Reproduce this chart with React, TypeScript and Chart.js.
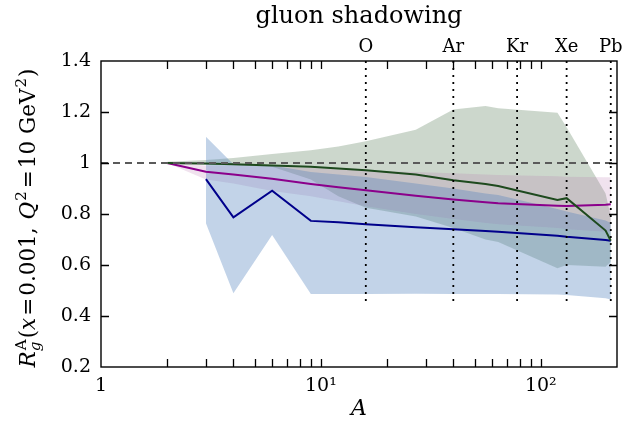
import React, { useEffect, useRef } from 'react';
import { Chart, registerables } from 'chart.js';

Chart.register(...registerables);

const FONT = '"DejaVu Serif", "Liberation Serif", serif';

// mass numbers at which the curves are evaluated
const massA = [2, 3, 4, 6, 9, 12, 16, 27, 40, 56, 64, 119, 131, 197, 208];
const greenCentral = [1.0, 0.998, 0.995, 0.99, 0.985, 0.978, 0.972, 0.955, 0.932, 0.918, 0.91, 0.855, 0.862, 0.735, 0.695];
const greenUpper = [1.005, 1.012, 1.02, 1.035, 1.05, 1.065, 1.085, 1.13, 1.21, 1.224, 1.215, 1.197, 1.14, 0.88, 0.79];
const greenLower = [0.995, 0.992, 0.99, 0.985, 0.935, 0.87, 0.825, 0.79, 0.745, 0.7, 0.69, 0.587, 0.6, 0.593, 0.613];
const purpleCentral = [1.0, 0.966, 0.955, 0.938, 0.918, 0.905, 0.893, 0.872, 0.857, 0.846, 0.842, 0.832, 0.831, 0.836, 0.838];
const pinkUpper = [1.0, 0.99, 0.988, 0.985, 0.98, 0.975, 0.97, 0.965, 0.96, 0.955, 0.953, 0.948, 0.946, 0.944, 0.944];
const pinkLower = [1.0, 0.935, 0.92, 0.89, 0.87, 0.85, 0.83, 0.8, 0.78, 0.765, 0.76, 0.745, 0.74, 0.73, 0.73];
const blueA = [3, 4, 6, 9, 12, 16, 27, 40, 56, 64, 119, 131, 197, 208];
const blueCentral = [0.937, 0.787, 0.891, 0.773, 0.768, 0.76, 0.748, 0.74, 0.733, 0.73, 0.715, 0.711, 0.698, 0.695];
const blueUpper = [1.103, 0.995, 0.99, 0.965, 0.955, 0.945, 0.92, 0.9, 0.88, 0.875, 0.82, 0.81, 0.775, 0.765];
const blueLower = [0.764, 0.489, 0.718, 0.486, 0.486, 0.486, 0.487, 0.486, 0.486, 0.486, 0.484, 0.482, 0.47, 0.465];

const markerNames = ['O', 'Ar', 'Kr', 'Xe', 'Pb'];
const markerA = [16, 40, 78, 131, 208];
const markerRange = [1.4, 0.45];
const referenceLevel = 1;

const xMin = 1;
const xMax = 222;
const yMin = 0.2;
const yMax = 1.4;
const yStep = 0.2;
const xLabelValues = [1, 10, 100];
const xLabelTexts = ['1', '10\u00B9', '10\u00B2'];
const xTickMarks = [2, 3, 4, 5, 6, 7, 8, 9, 10, 20, 30, 40, 50, 60, 70, 80, 90, 100];
const yTickMarks = [0.4, 0.6, 0.8, 1.0, 1.2];

const titleText = 'gluon shadowing';
const xTitleText = 'A';
type Seg = { t: string; italic?: boolean; scale?: number; dy?: number; noAdvance?: boolean; padL?: number; padR?: number };
const yTitleSegments: Seg[] = [
  { t: 'R', italic: true },
  { t: 'A', scale: 0.7, dy: -0.42, noAdvance: true, padL: 1 },
  { t: 'g', italic: true, scale: 0.7, dy: 0.22, padL: 0 },
  { t: '(', padL: 1 },
  { t: 'x', italic: true },
  { t: '=', padL: 2, padR: 2 },
  { t: '0.001,' },
  { t: 'Q', italic: true, padL: 8 },
  { t: '2', scale: 0.7, dy: -0.42, padL: 1 },
  { t: '=', padL: 3, padR: 2 },
  { t: '10 GeV' },
  { t: '2', scale: 0.7, dy: -0.42, padL: 1 },
  { t: ')', padL: 1 },
];

const pts = (xs: number[], ys: number[]) => xs.map((x, i) => ({ x, y: ys[i] }));

function lineDs(data: any[], color: string, width: number, dash: number[] = []) {
  return {
    data,
    borderColor: color,
    borderWidth: width,
    borderDash: dash,
    borderCapStyle: 'butt',
    pointRadius: 0,
    fill: false,
    tension: 0,
  };
}
function bandUpper(data: any[], color: string) {
  return { data, borderColor: 'rgba(0,0,0,0)', borderWidth: 0, backgroundColor: color, pointRadius: 0, fill: '+1', tension: 0 };
}
function bandLower(data: any[]) {
  return { data, borderColor: 'rgba(0,0,0,0)', borderWidth: 0, pointRadius: 0, fill: false, tension: 0 };
}

function drawYTitle(ctx: CanvasRenderingContext2D, cx: number, cy: number) {
  const F = 21.5;
  const fnt = (it: boolean, size: number) => `${it ? 'italic ' : ''}${size}px ${FONT}`;
  let total = 0;
  let pending = 0;
  const items: any[] = [];
  for (const s of yTitleSegments) {
    const size = F * (s.scale ?? 1);
    ctx.font = fnt(!!s.italic, size);
    const w = ctx.measureText(s.t).width;
    items.push({ s, size, x: total + (s.padL ?? 0) });
    if (s.noAdvance) {
      pending = w + (s.padL ?? 0);
    } else {
      total += Math.max((s.padL ?? 0) + w, pending) + (s.padR ?? 0);
      pending = 0;
    }
  }
  ctx.save();
  ctx.translate(cx, cy);
  ctx.rotate(-Math.PI / 2);
  ctx.fillStyle = '#000';
  ctx.textBaseline = 'alphabetic';
  ctx.textAlign = 'left';
  for (const it of items) {
    ctx.font = fnt(!!it.s.italic, it.size);
    ctx.fillText(it.s.t, it.x - total / 2, (it.s.dy ?? 0) * F);
  }
  ctx.restore();
}

const decorPlugin = {
  id: 'decor',
  afterDraw(chart: any) {
    const { ctx, chartArea } = chart;
    const { left, right, top, bottom } = chartArea;
    const xs = chart.scales.x;
    const ys = chart.scales.y;
    ctx.save();
    ctx.setLineDash([]);
    ctx.globalAlpha = 1;
    ctx.strokeStyle = '#000000';
    ctx.lineWidth = 1.3;
    const tl = 8;
    ctx.beginPath();
    xTickMarks.forEach((v) => {
      const px = Math.round(xs.getPixelForValue(v)) + 0.5;
      ctx.moveTo(px, bottom);
      ctx.lineTo(px, bottom - tl);
      ctx.moveTo(px, top);
      ctx.lineTo(px, top + tl);
    });
    yTickMarks.forEach((v) => {
      const py = Math.round(ys.getPixelForValue(v)) + 0.5;
      ctx.moveTo(left, py);
      ctx.lineTo(left + tl, py);
      ctx.moveTo(right, py);
      ctx.lineTo(right - tl, py);
    });
    ctx.stroke();
    ctx.lineWidth = 1.4;
    ctx.strokeRect(left, top, right - left, bottom - top);
    ctx.fillStyle = '#000';
    ctx.font = `18px ${FONT}`;
    ctx.textAlign = 'center';
    ctx.textBaseline = 'alphabetic';
    markerNames.forEach((n, i) => {
      ctx.fillText(n, xs.getPixelForValue(markerA[i]), 52);
    });
    ctx.restore();
    drawYTitle(ctx, 35, 218);
  },
};

export default function App() {
  const ref = useRef<HTMLCanvasElement>(null);
  useEffect(() => {
    document.body.style.margin = '0';
    const datasets: any[] = [];
    markerA.forEach((a) => {
      datasets.push(lineDs([{ x: a, y: markerRange[0] }, { x: a, y: markerRange[1] }], '#000', 1.8, [2, 5]));
    });
    datasets.push(lineDs([{ x: xMin, y: referenceLevel }, { x: xMax, y: referenceLevel }], '#5a5a5a', 2, [7, 5]));
    datasets.push(lineDs(pts(massA, greenCentral), '#1e4a1e', 2));
    datasets.push(lineDs(pts(massA, purpleCentral), '#8b008b', 2));
    datasets.push(lineDs(pts(blueA, blueCentral), '#00008b', 2));
    datasets.push(bandUpper(pts(blueA, blueUpper), 'rgba(80,130,190,0.35)'));
    datasets.push(bandLower(pts(blueA, blueLower)));
    datasets.push(bandUpper(pts(massA, pinkUpper), 'rgba(180,110,170,0.2)'));
    datasets.push(bandLower(pts(massA, pinkLower)));
    datasets.push(bandUpper(pts(massA, greenUpper), 'rgba(110,140,110,0.35)'));
    datasets.push(bandLower(pts(massA, greenLower)));

    const chart = new Chart(ref.current as HTMLCanvasElement, {
      type: 'line',
      data: { datasets },
      options: {
        animation: false,
        responsive: false,
        events: [],
        layout: { padding: { left: 0, right: 10, top: 0, bottom: 0 } },
        plugins: {
          legend: { display: false },
          tooltip: { enabled: false },
          title: {
            display: true,
            fullSize: false,
            text: titleText,
            color: '#000',
            font: { family: FONT, size: 24, weight: 'normal' },
            padding: { top: 2, bottom: 30.2 },
          },
        },
        scales: {
          x: {
            type: 'logarithmic',
            min: xMin,
            max: xMax,
            grid: { display: false, drawTicks: false },
            border: { display: false },
            ticks: {
              autoSkip: false,
              maxRotation: 0,
              padding: 8,
              color: '#000',
              font: { family: FONT, size: 19 },
              callback: (v: any) => {
                const i = xLabelValues.findIndex((u) => Math.abs(u - Number(v)) < 1e-6);
                return i >= 0 ? xLabelTexts[i] : '';
              },
            },
            title: {
              display: true,
              text: xTitleText,
              color: '#000',
              font: { family: FONT, size: 22, style: 'italic' },
              padding: { top: 0, bottom: 8 },
            },
            afterFit: (s: any) => {
              s.height = 63;
            },
          },
          y: {
            type: 'linear',
            min: yMin,
            max: yMax,
            grid: { display: false, drawTicks: false },
            border: { display: false },
            ticks: {
              stepSize: yStep,
              padding: 10,
              color: '#000',
              font: { family: FONT, size: 19 },
              callback: (v: any) => String(parseFloat(Number(v).toFixed(1))),
            },
            afterFit: (s: any) => {
              s.width = 101;
            },
          },
        },
      } as any,
      plugins: [decorPlugin],
    });
    return () => chart.destroy();
  }, []);
  return (
    <div style={{ width: 627, height: 430 }}>
      <canvas ref={ref} width={627} height={430} style={{ display: 'block' }} />
    </div>
  );
}
